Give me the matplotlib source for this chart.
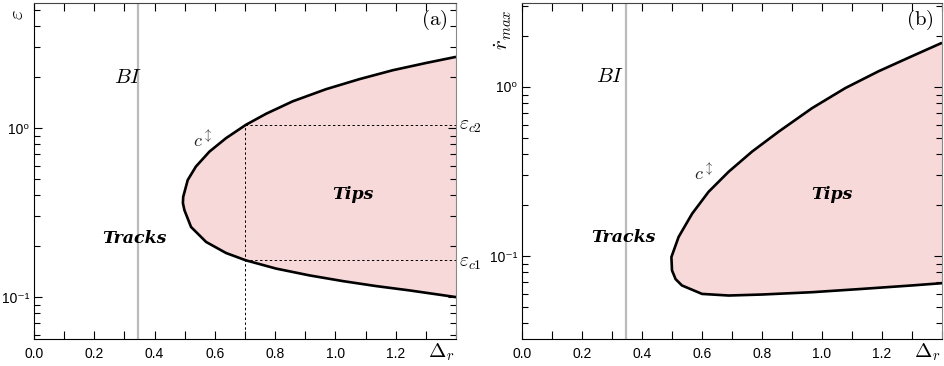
import numpy as np
import matplotlib
matplotlib.use('Agg')
import matplotlib.pyplot as plt
from matplotlib.ticker import FixedLocator, LogLocator, NullFormatter, MultipleLocator

plt.rcParams['mathtext.fontset'] = 'cm'
plt.rcParams['font.family'] = ['Liberation Sans', 'DejaVu Sans']

# boundary of the tip region, panel (a): epsilon vs Delta_r
a_upper_x = [1.400, 1.301, 1.190, 1.080, 0.969, 0.858, 0.770, 0.703, 0.637,
             0.582, 0.537, 0.510, 0.495, 0.494]
a_upper_y = [2.64, 2.43, 2.20, 1.95, 1.70, 1.44, 1.216, 1.046, 0.872,
             0.726, 0.592, 0.493, 0.392, 0.36]
a_lower_x = [0.499, 0.521, 0.571, 0.637, 0.703, 0.803, 0.913, 1.024, 1.135,
             1.245, 1.400]
a_lower_y = [0.327, 0.260, 0.212, 0.1824, 0.165, 0.1475, 0.1345, 0.1244,
             0.1162, 0.1096, 0.100]

# panel (b): r_dot_max vs Delta_r
b_upper_x = [1.400, 1.300, 1.189, 1.078, 0.967, 0.856, 0.767, 0.689, 0.622,
             0.567, 0.522, 0.498, 0.500]
b_upper_y = [1.826, 1.522, 1.240, 0.986, 0.750, 0.545, 0.415, 0.3155, 0.240,
             0.178, 0.1297, 0.0986, 0.0822]
b_lower_x = [0.512, 0.533, 0.600, 0.689, 0.800, 0.967, 1.133, 1.300, 1.400]
b_lower_y = [0.0730, 0.0670, 0.0597, 0.0584, 0.0592, 0.0611, 0.0639, 0.0670, 0.0691]

bi_x = 0.345
delta_c = 0.70
eps_c1 = 0.165
eps_c2 = 1.046

xticks = [0.0, 0.2, 0.4, 0.6, 0.8, 1.0, 1.2, 1.4]
xlabels = ['0.0', '0.2', '0.4', '0.6', '0.8', '1.0', '1.2', '']

fill_col = '#f7d9da'
tips_font = dict(family='DejaVu Serif', weight='bold', style='italic', fontsize=12.5)

fig = plt.figure(figsize=(9.45, 3.66), dpi=100)
ax1 = fig.add_axes([34/945, 27/366, 422/945, 336/366])
ax2 = fig.add_axes([522/945, 27/366, 420/945, 336/366])


def style(ax, ylim):
    ax.set_xlim(0, 1.4)
    ax.set_yscale('log')
    ax.set_ylim(*ylim)
    ax.set_xticks(xticks)
    ax.set_xticklabels(xlabels)
    ax.xaxis.set_minor_locator(MultipleLocator(0.1))
    ax.yaxis.set_major_locator(FixedLocator([0.1, 1.0]))
    ax.set_yticklabels(['10⁻¹', '10⁰'])
    ax.yaxis.set_minor_locator(LogLocator(base=10, subs=np.arange(2, 10)))
    ax.yaxis.set_minor_formatter(NullFormatter())
    ax.tick_params(which='both', direction='in', top=True, right=True,
                   labelsize=10, width=0.8)
    ax.tick_params(which='major', length=6)
    ax.tick_params(which='minor', length=4)
    ax.tick_params(axis='x', which='minor', length=6)
    ax.tick_params(axis='x', pad=6)
    ax.spines['left'].set_color('black')
    ax.spines['bottom'].set_color('black')
    ax.spines['top'].set_color('#444444')
    ax.spines['right'].set_color('#888888')
    ax.axvline(bi_x, color='#bbbbbb', lw=1.6, zorder=1)
    ax.text(0.965, -0.04, r'$\Delta_r$', transform=ax.transAxes,
            ha='center', va='center', fontsize=15)


def region(ax, ux, uy, lx, ly):
    xs = list(ux) + list(lx)
    ys = list(uy) + list(ly)
    ax.fill(xs, ys, color=fill_col, lw=0, zorder=0)
    ax.plot(xs, ys, color='black', lw=1.9, zorder=3,
            solid_joinstyle='round', solid_capstyle='butt')


# panel (a)
style(ax1, (0.0565, 5.5))
region(ax1, a_upper_x, a_upper_y, a_lower_x, a_lower_y)
dash = dict(color='black', ls=(0, (2.5, 2.5)), lw=0.7, zorder=2)
ax1.plot([delta_c, 1.4], [eps_c2, eps_c2], **dash)
ax1.plot([delta_c, 1.4], [eps_c1, eps_c1], **dash)
ax1.plot([delta_c, delta_c], [0.0565, eps_c2], **dash)
ax1.text(-0.04, 0.965, r'$\varepsilon$', transform=ax1.transAxes, rotation=90,
         ha='center', va='center', fontsize=15)
ax1.text(0.948, 0.95, r'$\mathrm{(a)}$', transform=ax1.transAxes, ha='center',
         va='center', fontsize=15)
ax1.text(0.312, 1.98, r'$BI$', ha='center', va='center', fontsize=15)
ax1.text(0.333, 0.223, 'Tracks', ha='center', va='center', **tips_font)
ax1.text(1.057, 0.402, 'Tips', ha='center', va='center', **tips_font)
ax1.text(0.56, 0.84, r'$c^{\updownarrow}$', ha='center', va='center',
         fontsize=13, color='#222222')
ax1.text(1.008, eps_c2 * 0.98, r'$\varepsilon_{c2}$', transform=ax1.get_yaxis_transform(),
         ha='left', va='center', fontsize=14)
ax1.text(1.008, eps_c1 * 0.96, r'$\varepsilon_{c1}$', transform=ax1.get_yaxis_transform(),
         ha='left', va='center', fontsize=14)

# panel (b)
style(ax2, (0.0323, 3.14))
region(ax2, b_upper_x, b_upper_y, b_lower_x, b_lower_y)
ax2.text(-0.045, 0.92, r'$\dot{r}_{max}$', transform=ax2.transAxes, rotation=90,
         ha='center', va='center', fontsize=15)
ax2.text(0.948, 0.95, r'$\mathrm{(b)}$', transform=ax2.transAxes, ha='center',
         va='center', fontsize=15)
ax2.text(0.293, 1.15, r'$BI$', ha='center', va='center', fontsize=15)
ax2.text(0.337, 0.129, 'Tracks', ha='center', va='center', **tips_font)
ax2.text(1.033, 0.23, 'Tips', ha='center', va='center', **tips_font)
ax2.text(0.606, 0.31, r'$c^{\updownarrow}$', ha='center', va='center',
         fontsize=13, color='#222222')

fig.savefig('out.png', dpi=100)
